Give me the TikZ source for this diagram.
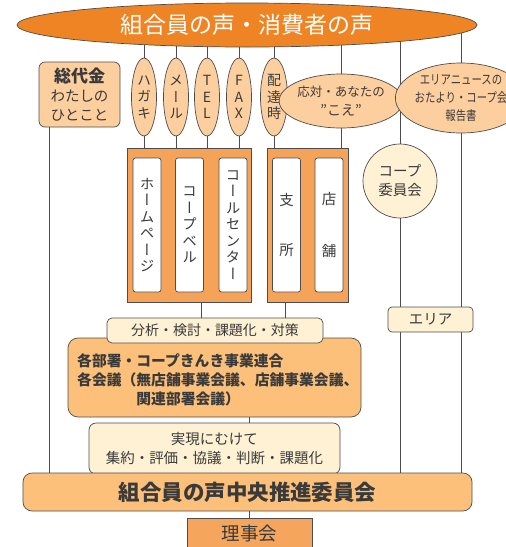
\documentclass[tikz,border=0pt]{standalone}
\usepackage{fontspec}
\setmainfont{Noto Sans CJK JP}
\newfontfamily\vjp{Noto Sans CJK JP}[RawFeature=+vert]
\usetikzlibrary{shapes.geometric,backgrounds}
\definecolor{titleor}{HTML}{EF8424}
\definecolor{peach}{HTML}{FDCF9E}
\definecolor{grpor}{HTML}{F6A35A}
\definecolor{cream}{HTML}{FEF1D4}
\definecolor{midor}{HTML}{FCC07B}
\definecolor{rijior}{HTML}{F6A55C}
\definecolor{bord}{HTML}{4D4D4D}
\definecolor{txt}{HTML}{3A3A3A}
\tikzset{
  base/.style={draw=bord,line width=0.7pt,inner sep=0pt,text=txt},
  oval/.style={base,ellipse,fill=peach},
  vchan/.style={oval,minimum width=25pt,minimum height=78pt,align=center,
     font=\vjp\fontsize{14}{16.5}\selectfont},
  grp/.style={base,fill=grpor,minimum width=#1,minimum height=154pt},
  inbox/.style={base,fill=white,rounded corners=2.5pt,minimum width=28pt,minimum height=134pt,
     align=center},
  creambox/.style={base,fill=cream,rounded corners=5pt},
  conn/.style={draw=bord,line width=0.8pt},
}
\begin{document}
\begin{tikzpicture}[x=1pt,y=-1pt]
\useasboundingbox (0,0) rectangle (506,547);
\clip (0,0) rectangle (506,547);

% title
\node[base,ellipse,fill=titleor,minimum width=460pt,minimum height=44pt,
  text=white,font=\fontsize{23}{25}\selectfont] (title) at (247,25) {組合員の声・消費者の声};

% 総代金
\node[base,fill=peach,rounded corners=6pt,minimum width=81pt,minimum height=65pt,align=center,
  font=\fontsize{14.5}{19}\selectfont] (sodai) at (79.5,94.5)
  {{\bfseries\fontsize{17}{19}\selectfont 総代金}\\わたしの\\ひとこと};
\coordinate (sodaileg) at (49,127);

% channel ellipses
\node[vchan] (haga) at (144,97) {ハ\\ガ\\キ};
\node[vchan] (mail) at (176,97) {メ\\ー\\ル};
\node[vchan] (tel) at (207,97) {T\\E\\L};
\node[vchan] (fax) at (239,97) {F\\A\\X};
\node[vchan,minimum width=27pt] (haitatsu) at (274,97) {配\\達\\時};

\node[oval,minimum width=104pt,minimum height=54pt,align=center,
  font=\fontsize{12.5}{19}\selectfont] (outai) at (341,101) {応対・あなたの\\{\fontsize{14}{19}\selectfont\itshape ”こえ”}};
\node[oval,minimum width=105pt,minimum height=70pt,align=center,
  font=\fontsize{13}{18}\selectfont] (news) at (461,98)
  {\scalebox{0.8}[1]{エリアニュースの}\\\scalebox{0.8}[1]{おたより・コープ会}\\\scalebox{0.8}[1]{報告書}};

% group boxes
\node[grp=124pt] (gl) at (189,225) {};
\node[grp=81pt] (gr) at (307.5,225) {};
\node[inbox,font=\vjp\fontsize{14.5}{16.5}\selectfont] (hp) at (147,225) {ホ\\ー\\ム\\ペ\\ー\\ジ};
\node[inbox,font=\vjp\fontsize{14.5}{16.5}\selectfont] (bell) at (189.5,225) {コ\\ー\\プ\\ベ\\ル};
\node[inbox,font=\vjp\fontsize{14.5}{16.5}\selectfont] (call) at (233,225) {コ\\ー\\ル\\セ\\ン\\タ\\ー};
\node[inbox,font=\fontsize{14.5}{50}\selectfont] (shisho) at (286.5,225) {支\\所};
\node[inbox,font=\fontsize{14.5}{52}\selectfont] (tenpo) at (329,225) {店\\舗};

% coop committee
\node[base,circle,fill=cream,minimum size=74pt,align=center,
  font=\fontsize{14.5}{19}\selectfont] (coop) at (400,181) {コープ\\委員会};
\node[creambox,rounded corners=4pt,minimum width=85pt,minimum height=25pt,
  font=\fontsize{14.5}{17}\selectfont] (area) at (430.5,319.5) {エリア};

% departments
\node[base,fill=midor,rounded corners=10pt,minimum width=293pt,minimum height=79pt] (dept) at (214.5,377.5) {};
\node[creambox,minimum width=216pt,minimum height=25pt,font=\fontsize{14}{17}\selectfont]
  (bunseki) at (215,330.5) {分析・検討・課題化・対策};
\node[anchor=west,align=left,inner sep=0pt,text=txt,font=\bfseries\fontsize{14.8}{19}\selectfont]
  (depttxt) at (77,379.5) {各部署・コープきんき事業連合\\各会議（無店舗事業会議、店舗事業会議、\\\hspace*{4em}関連部署会議）};

\node[creambox,rounded corners=7pt,minimum width=251pt,minimum height=51pt,align=center,
  font=\fontsize{14.5}{19}\selectfont] (jitsu) at (214.5,448.5) {実現にむけて\\集約・評価・協議・判断・課題化};

\node[base,fill=midor,rounded corners=9pt,minimum width=449pt,minimum height=38pt,
  font=\bfseries\fontsize{21.5}{24}\selectfont] (central) at (247.5,492) {組合員の声中央推進委員会};
\node[base,fill=rijior,minimum width=125pt,minimum height=30pt,
  font=\fontsize{18.5}{20}\selectfont] (riji) at (249.5,533) {理事会};

\begin{pgfonlayer}{background}
  \foreach \n in {haga,mail,tel,fax,haitatsu}{
    \draw[conn] (title.center -| \n) -- (\n.center |- gl.center);
  }
  \draw[conn] (title.center -| outai) -- (outai.center |- gr.center);
  \draw[conn] (title.center -| coop) -- (coop.center |- central.center);
  \draw[conn] (title.center -| news) -- (news.center |- central.center);
  \draw[conn] (sodaileg) -- (sodaileg |- central.center);
  \coordinate (glleg) at (201,302);
  \coordinate (grleg) at (285,302);
  \draw[conn] (glleg) -- (glleg |- bunseki.center);
  \draw[conn] (grleg) -- (grleg |- bunseki.center);
  \draw[conn] (dept.center -| riji) -- (riji.center);
\end{pgfonlayer}
\end{tikzpicture}
\end{document}
